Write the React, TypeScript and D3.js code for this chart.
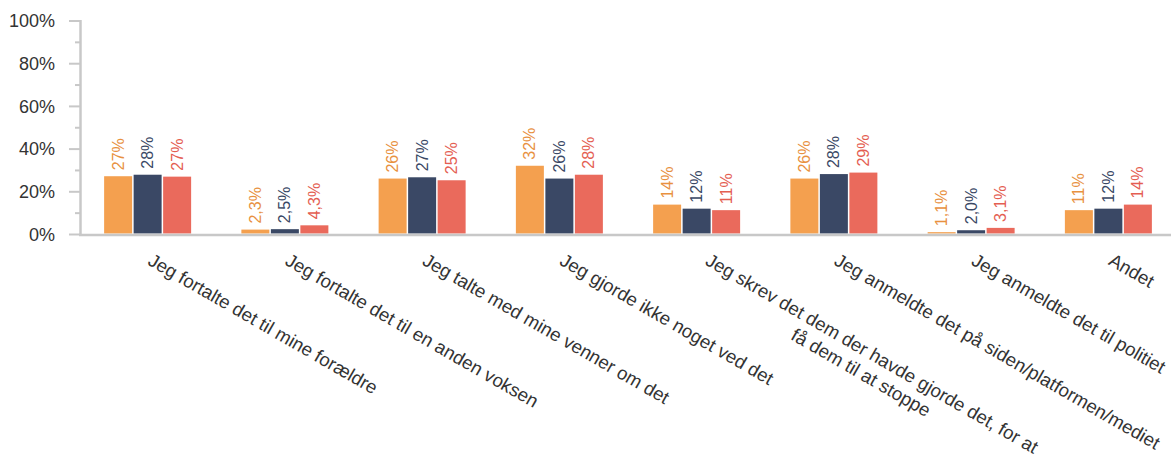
import React, { useEffect, useRef } from "react";
import * as d3 from "d3";

const categories: string[][] = [
  ["Jeg fortalte det til mine forældre"],
  ["Jeg fortalte det til en anden voksen"],
  ["Jeg talte med mine venner om det"],
  ["Jeg gjorde ikke noget ved det"],
  ["Jeg skrev det dem der havde gjorde det, for at", "få dem til at stoppe"],
  ["Jeg anmeldte det på siden/platformen/mediet"],
  ["Jeg anmeldte det til politiet"],
  ["Andet"],
];

const seriesNames = ["A", "B", "C"];
const seriesA = [27.3, 2.3, 26.2, 32.2, 14.0, 26.2, 1.1, 11.4];
const seriesB = [28.0, 2.5, 26.8, 26.2, 12.1, 28.3, 2.0, 12.1];
const seriesC = [27.1, 4.3, 25.4, 28.0, 11.4, 29.0, 3.1, 14.0];
const barColors = ["#F4A04F", "#3A4865", "#EA6A5C"];
const labelColors = ["#E8913F", "#3A4865", "#E45E52"];
const yTicks = [0, 20, 40, 60, 80, 100];
const yMinorTicks = [10, 30, 50, 70, 90];

const W = 1171;
const H = 454;
const FONT = "'Liberation Sans', Arial, sans-serif";

function fmt(v: number): string {
  if (v < 10) return v.toFixed(1).replace(".", ",") + "%";
  return Math.round(v) + "%";
}

export default function App() {
  const ref = useRef<SVGSVGElement | null>(null);

  useEffect(() => {
    document.body.style.margin = "0";
    const svg = d3.select(ref.current);
    svg.selectAll("*").remove();

    const series = [seriesA, seriesB, seriesC];
    const idx = categories.map((_, i) => i);

    const x0 = d3.scaleBand<number>().domain(idx).range([79, 1177]).padding(0);
    const x1 = d3
      .scaleBand<string>()
      .domain(seriesNames)
      .range([-43.5, 43.5])
      .paddingInner(1.5 / 29.5)
      .paddingOuter(0);
    const y = d3.scaleLinear().domain([0, 100]).range([234.5, 21]);

    const axisColor = "#C8C8C8";

    // y-axis ticks
    const gy = svg.append("g");
    gy.selectAll("line.major")
      .data(yTicks)
      .join("line")
      .attr("x1", 69)
      .attr("x2", 80)
      .attr("y1", (d) => y(d))
      .attr("y2", (d) => y(d))
      .attr("stroke", axisColor)
      .attr("stroke-width", 2);
    gy.selectAll("line.minor")
      .data(yMinorTicks)
      .join("line")
      .attr("x1", 75)
      .attr("x2", 80)
      .attr("y1", (d) => y(d))
      .attr("y2", (d) => y(d))
      .attr("stroke", axisColor)
      .attr("stroke-width", 2);
    gy.selectAll("text")
      .data(yTicks)
      .join("text")
      .attr("x", 55)
      .attr("y", (d) => y(d))
      .attr("dy", "0.35em")
      .attr("text-anchor", "end")
      .attr("font-family", FONT)
      .attr("font-size", 18)
      .attr("fill", "#333333")
      .text((d) => d + "%");

    // bars
    series.forEach((vals, s) => {
      const g = svg.append("g");
      g.selectAll("rect")
        .data(vals)
        .join("rect")
        .attr("x", (_, i) => x0(i)! + x0.bandwidth() / 2 + x1(seriesNames[s])!)
        .attr("width", x1.bandwidth())
        .attr("y", (d) => y(d))
        .attr("height", (d) => y(0) - 1 - y(d))
        .attr("fill", barColors[s]);
      g.selectAll("text")
        .data(vals)
        .join("text")
        .attr("transform", (d, i) => {
          const cx = x0(i)! + x0.bandwidth() / 2 + x1(seriesNames[s])! + x1.bandwidth() / 2;
          return `translate(${cx},${y(d) - 6}) rotate(-90)`;
        })
        .attr("dy", "0.35em")
        .attr("text-anchor", "start")
        .attr("font-family", FONT)
        .attr("font-size", 16)
        .attr("fill", labelColors[s])
        .text((d) => fmt(d));
    });

    // axes lines
    svg.append("line")
      .attr("x1", 80.5)
      .attr("x2", 80.5)
      .attr("y1", y(100) - 1)
      .attr("y2", 236)
      .attr("stroke", axisColor)
      .attr("stroke-width", 2.5);
    svg.append("line")
      .attr("x1", 79)
      .attr("x2", W)
      .attr("y1", 235)
      .attr("y2", 235)
      .attr("stroke", axisColor)
      .attr("stroke-width", 2.5);

    // category labels, rotated 30deg, starting at each category centre
    const lineH = 22;
    categories.forEach((lines, i) => {
      const center = x0(i)! + x0.bandwidth() / 2;
      const px = center - 1 + (lines.length - 1) * 8.5;
      const g = svg
        .append("g")
        .attr("transform", `translate(${px},264) rotate(30)`);
      const texts = g
        .selectAll("text")
        .data(lines)
        .join("text")
        .attr("y", (_, k) => k * lineH)
        .attr("font-family", FONT)
        .attr("font-size", 18.6)
        .attr("fill", "#333333")
        .attr("text-anchor", "middle")
        .text((d) => d);
      let maxW = 0;
      texts.each(function () {
        const w = (this as SVGTextElement).getComputedTextLength();
        if (w > maxW) maxW = w;
      });
      texts.attr("x", maxW / 2);
    });
  }, []);

  return (
    <svg
      ref={ref}
      width={W}
      height={H}
      style={{ display: "block", background: "#ffffff" }}
    />
  );
}
